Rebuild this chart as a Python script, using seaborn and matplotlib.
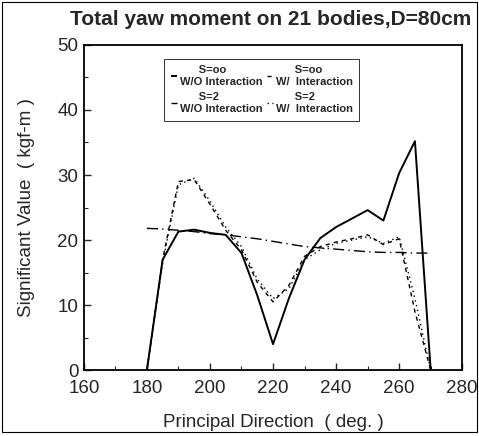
import matplotlib
matplotlib.use("Agg")
import matplotlib.pyplot as plt
import seaborn as sns
import pandas as pd
from matplotlib.patches import Rectangle

# values
direction = [180, 185, 190, 195, 200, 205, 210, 215, 220, 225,
             230, 235, 240, 245, 250, 255, 260, 265, 270]
s_inf_wo = [0, 17.0, 21.3, 21.6, 21.1, 20.8, 18.0, 11.5, 4.0, 11.0,
            17.0, 20.3, 22.0, 23.3, 24.6, 23.0, 30.3, 35.2, 0]
s_inf_w = [0, 17.0, 29.0, 29.3, 25.5, 21.5, 18.5, 13.5, 10.5, 13.0,
           17.5, 19.0, 19.7, 20.2, 20.8, 19.3, 20.2, 9.0, 0]
s2_wo = [21.8, 21.7, 21.5, 21.3, 21.0, 20.8, 20.5, 20.2, 19.8, 19.4,
         19.0, 18.8, 18.6, 18.4, 18.2, 18.1, 18.1, 18.0, 18.0]
s2_w = [0, 16.5, 28.5, 29.5, 26.0, 22.0, 19.0, 14.0, 11.0, 12.5,
        17.0, 18.5, 19.5, 20.0, 20.5, 19.5, 20.5, 11.0, 0]

labels = ["      S=oo\nW/O Interaction", "      S=oo\nW/  Interaction",
          "      S=2\nW/O Interaction", "      S=2\nW/  Interaction"]
x_ticks = [160, 180, 200, 220, 240, 260, 280]
y_ticks = [0, 10, 20, 30, 40, 50]

sns.set_theme(style="ticks")
plt.rcParams["font.family"] = ["Liberation Sans", "DejaVu Sans"]

fig = plt.figure(figsize=(4.79, 4.36), dpi=100)
ax = fig.add_axes([0.175, 0.151, 0.79, 0.746])

styles = [(0, ()), (0, (3, 3)), (0, (8, 3, 1, 3)), (0, (1, 2.5))]
widths = [1.4, 1.0, 1.0, 1.0]
series = [s_inf_wo, s_inf_w, s2_wo, s2_w]
lines = {}
for vals, lab, ls, lw in zip(series, labels, styles, widths):
    df = pd.DataFrame({"x": direction, "y": vals})
    sns.lineplot(data=df, x="x", y="y", ax=ax, color="black", linewidth=lw,
                 linestyle=ls, label=lab, legend=False)
    lines[lab] = ax.lines[-1]

ax.set_xlim(160, 280)
ax.set_ylim(0, 50)
ax.set_xticks(x_ticks)
ax.set_yticks(y_ticks)
ax.set_xticks(range(160, 281, 10), minor=True)
ax.set_yticks(range(0, 51, 5), minor=True)
ax.tick_params(direction="in", length=5, width=1, labelsize=13.5)
ax.tick_params(axis="x", pad=7)
ax.tick_params(axis="y", pad=4)
ax.tick_params(which="minor", direction="in", length=3, width=0.8)
for sp in ax.spines.values():
    sp.set_linewidth(1.3)
    sp.set_color("black")

ax.set_xlabel("Principal Direction  ( deg. )", fontsize=13.5, labelpad=12)
ax.set_ylabel("Significant Value  ( kgf-m )", fontsize=13.5, labelpad=16)
fig.text(0.565, 0.955, "Total yaw moment on 21 bodies,D=80cm", ha="center",
         va="center", fontsize=15, fontweight="bold")

# legend reads row-wise: S=oo pair on top, S=2 pair below
order = [labels[0], labels[2], labels[1], labels[3]]
leg = ax.legend([lines[k] for k in order], order, ncol=2, loc="upper center",
                bbox_to_anchor=(0.47, 0.975), handlelength=0.6,
                handletextpad=0.2, columnspacing=0.4, labelspacing=0.5,
                frameon=True, fancybox=False, borderpad=0.6,
                prop={"weight": "bold", "size": 8})
leg.get_frame().set_edgecolor("black")
leg.get_frame().set_linewidth(0.7)

fig.patches.append(Rectangle((0.005, 0.01), 0.99, 0.985, transform=fig.transFigure,
                             fill=False, edgecolor="black", linewidth=0.8))

fig.savefig("out.png", dpi=100)
